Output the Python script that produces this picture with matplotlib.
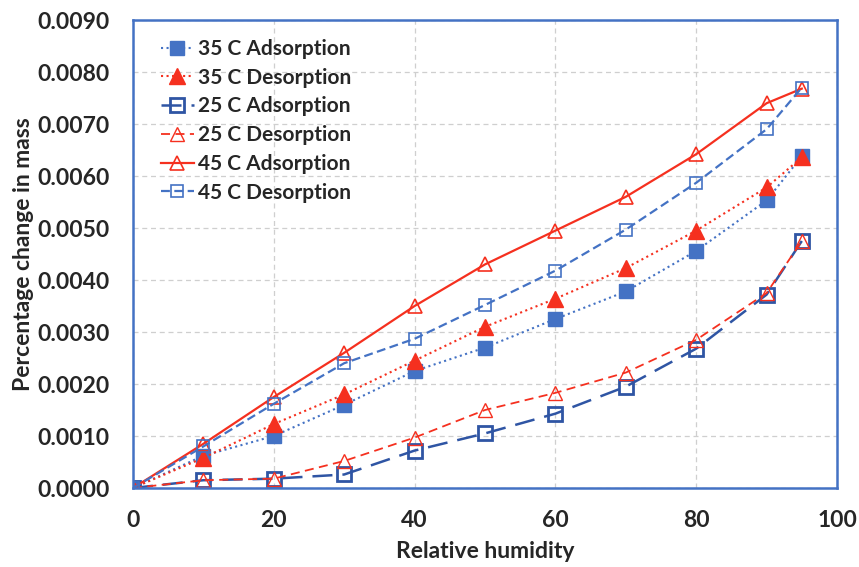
import numpy as np
import matplotlib.pyplot as plt

# relative humidity (%)
rh = [0, 10, 20, 30, 40, 50, 60, 70, 80, 90, 95]

# percentage change in mass
ads_35 = [0, 0.00062, 0.00100, 0.00160, 0.00225, 0.00270, 0.00325, 0.00378, 0.00456, 0.00553, 0.00638]
des_35 = [0, 0.00058, 0.00123, 0.00180, 0.00245, 0.00310, 0.00364, 0.00423, 0.00495, 0.00578, 0.00636]
ads_25 = [0, 0.00015, 0.00018, 0.00026, 0.00072, 0.00105, 0.00143, 0.00195, 0.00268, 0.00372, 0.00475]
des_25 = [0, 0.00015, 0.00018, 0.00052, 0.00097, 0.00150, 0.00183, 0.00222, 0.00285, 0.00375, 0.00475]
ads_45 = [0, 0.00085, 0.00175, 0.00260, 0.00350, 0.00430, 0.00495, 0.00560, 0.00642, 0.00740, 0.00768]
des_45 = [0, 0.00080, 0.00162, 0.00240, 0.00287, 0.00352, 0.00418, 0.00497, 0.00587, 0.00690, 0.00770]

blue = '#4472C4'
dark_blue = '#2F55A4'
red = '#F5301F'
text_col = '#262626'

plt.rcParams['font.family'] = ['Lato', 'DejaVu Sans']
plt.rcParams['font.weight'] = 'bold'
plt.rcParams['axes.labelweight'] = 'bold'

fig = plt.figure(figsize=(8.59, 5.67), dpi=100)
ax = fig.add_axes([0.1548, 0.1393, 0.8196, 0.8254])

ax.plot(rh, ads_35, linestyle=':', color=blue, lw=1.5, marker='s', ms=10,
        mfc=blue, mec=blue, label='35 C Adsorption')
ax.plot(rh, des_35, linestyle=':', color=red, lw=1.5, marker='^', ms=11,
        mfc=red, mec=red, label='35 C Desorption')
ax.plot(rh, ads_25, linestyle=(0, (8, 4)), color=dark_blue, lw=1.8, marker='s', ms=10,
        mfc='none', mec=dark_blue, mew=2, label='25 C Adsorption')
ax.plot(rh, des_25, linestyle=(0, (5, 3)), color=red, lw=1.3, marker='^', ms=10,
        mfc='none', mec=red, mew=1, label='25 C Desorption')
ax.plot(rh, ads_45, linestyle='-', color=red, lw=1.6, marker='^', ms=10,
        mfc='none', mec=red, mew=1.2, label='45 C Adsorption')
ax.plot(rh, des_45, linestyle=(0, (4, 2)), color=blue, lw=1.6, marker='s', ms=9,
        mfc='none', mec=blue, mew=1.2, label='45 C Desorption')

ax.set_xlim(0, 100)
ax.set_ylim(0, 0.009)
ax.set_xticks(np.arange(0, 101, 20))
ax.set_yticks(np.arange(0, 0.0091, 0.001))
ax.set_yticklabels(['%.4f' % v for v in np.arange(0, 0.0091, 0.001)])
ax.grid(True, color='#CFCFCF', linestyle=(0, (4, 3)), lw=0.9)
ax.set_axisbelow(True)

for s in ax.spines.values():
    s.set_color(blue)
    s.set_linewidth(1.8)
ax.tick_params(axis='y', length=0, pad=17, labelsize=16.5, labelcolor=text_col)
ax.tick_params(axis='x', length=0, pad=16, labelsize=16.5, labelcolor=text_col)

ax.set_xlabel('Relative humidity', fontsize=16.5, color=text_col, labelpad=7)
ax.set_ylabel('Percentage change in mass', fontsize=16.5, color=text_col, labelpad=2)

leg = ax.legend(loc='upper left', bbox_to_anchor=(0.0277, 0.9776), borderaxespad=0,
                frameon=False, fontsize=15, handlelength=1.6,
                handletextpad=0.2, labelspacing=0.42)
for t in leg.get_texts():
    t.set_color(text_col)

fig.savefig('out.png', dpi=100)
